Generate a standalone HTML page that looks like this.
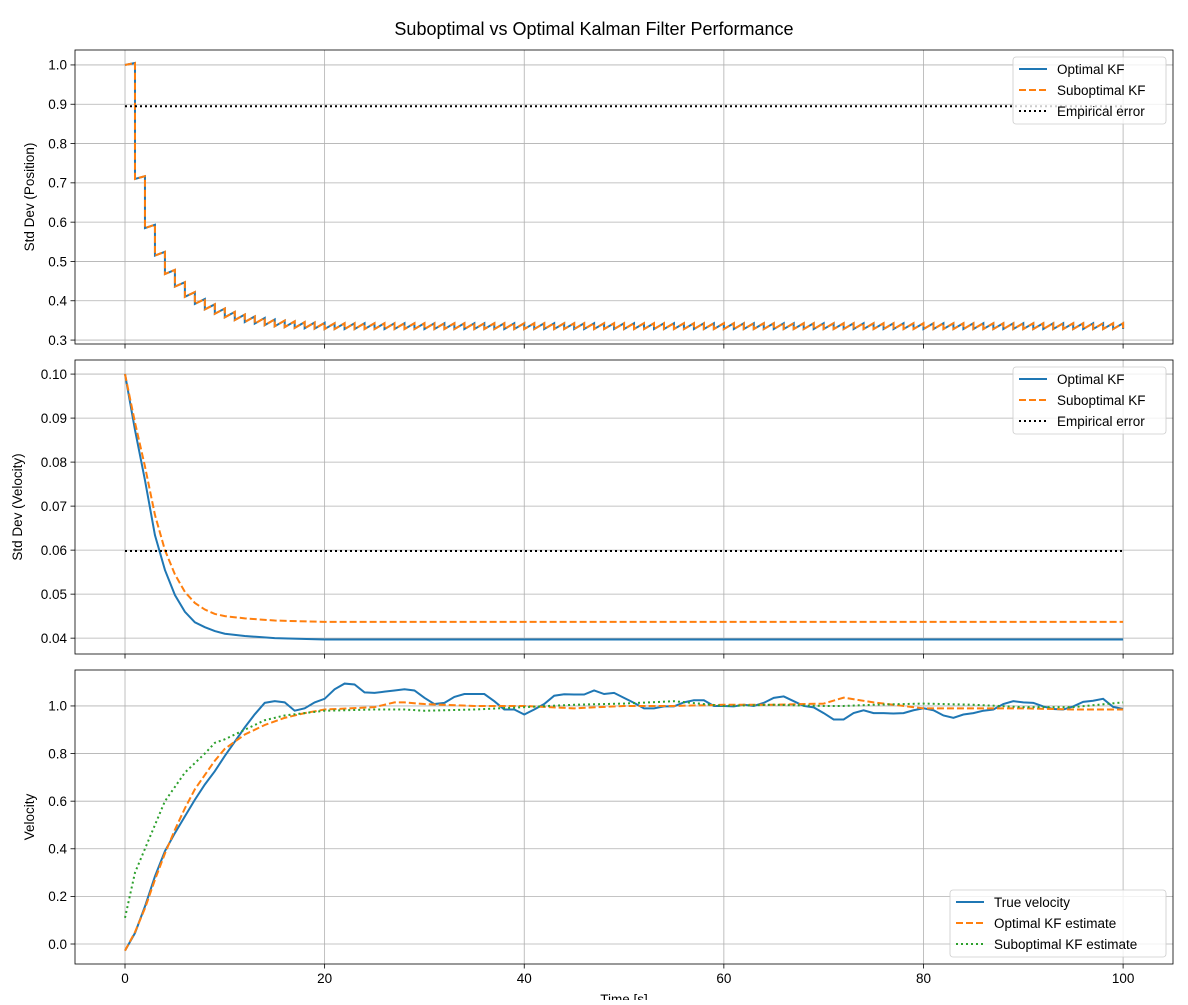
<!DOCTYPE html>
<html><head><meta charset="utf-8">
<style>
body{margin:0;background:#fff;}
svg{font-family:"Liberation Sans","DejaVu Sans",sans-serif;}
</style></head>
<body>
<svg id="chart" width="1188" height="1000" viewBox="0 0 1188 1000" xmlns="http://www.w3.org/2000/svg">
<rect width="1188" height="1000" fill="#fff"/>
<text x="594" y="35" font-size="18" text-anchor="middle">Suboptimal vs Optimal Kalman Filter Performance</text>
</svg>
<script>
// ---- data ----
const posPosterior = [1.0,0.71,0.585,0.515,0.468,0.436,0.41,0.392,0.378,0.367,0.358,0.351,0.346,0.342,0.338,0.335,0.333,0.331,0.330,0.329,0.328,0.328,0.328,0.328,0.328,0.328,0.328,0.328,0.328,0.328,0.328,0.328,0.328,0.328,0.328,0.328,0.328,0.328,0.328,0.328,0.328,0.328,0.328,0.328,0.328,0.328,0.328,0.328,0.328,0.328,0.328,0.328,0.328,0.328,0.328,0.328,0.328,0.328,0.328,0.328,0.328,0.328,0.328,0.328,0.328,0.328,0.328,0.328,0.328,0.328,0.328,0.328,0.328,0.328,0.328,0.328,0.328,0.328,0.328,0.328,0.328,0.328,0.328,0.328,0.328,0.328,0.328,0.328,0.328,0.328,0.328,0.328,0.328,0.328,0.328,0.328,0.328,0.328,0.328,0.328,0.328];
const posProcessNoise = 0.01;
const posEmpirical = 0.895;
const velTimes = [0,1,2,3,4,5,6,7,8,9,10,12,15,20,100];
const velStdOptimal = [0.1,0.0873,0.0759,0.0634,0.0555,0.0498,0.046,0.0436,0.0425,0.0416,0.041,0.0405,0.04,0.0397,0.0397];
const velStdSub = [0.1,0.089,0.079,0.068,0.060,0.0545,0.0505,0.048,0.0465,0.0455,0.045,0.0445,0.044,0.0437,0.0437];
const velEmpirical = 0.0598;
const trueVel = [-0.028,0.046,0.158,0.284,0.39,0.466,0.536,0.606,0.67,0.726,0.79,0.85,0.91,0.965,1.013,1.02,1.015,0.98,0.99,1.015,1.03,1.07,1.094,1.09,1.057,1.055,1.06,1.065,1.07,1.065,1.034,1.008,1.013,1.038,1.05,1.05,1.05,1.02,0.985,0.985,0.964,0.985,1.008,1.043,1.049,1.048,1.048,1.065,1.05,1.055,1.034,1.013,0.99,0.99,0.998,0.998,1.015,1.024,1.024,1.0,1.0,0.998,1.005,1.0,1.013,1.034,1.04,1.02,1.0,0.994,0.97,0.943,0.943,0.97,0.982,0.97,0.97,0.968,0.97,0.982,0.99,0.982,0.96,0.95,0.964,0.97,0.98,0.985,1.008,1.02,1.015,1.013,0.998,0.987,0.985,0.998,1.017,1.022,1.03,0.996,0.987];
const estTimes = [0,1,2,3,4,5,6,7,8,9,10,12,14,16,18,20,25,27,28,30,35,40,45,50,55,60,65,70,72,75,80,85,90,95,100];
const optEst = [-0.028,0.05,0.15,0.27,0.38,0.48,0.57,0.65,0.71,0.77,0.82,0.88,0.92,0.95,0.97,0.985,0.995,1.015,1.015,1.008,1.0,1.0,0.99,1.0,1.0,1.005,1.005,1.01,1.035,1.015,0.99,0.99,0.99,0.985,0.985];
const subEst = [0.11,0.3,0.4,0.5,0.6,0.66,0.72,0.76,0.8,0.845,0.86,0.9,0.94,0.96,0.97,0.98,0.985,0.985,0.985,0.98,0.985,0.995,1.005,1.01,1.02,1.0,1.005,1.0,1.0,1.005,1.01,1.005,0.995,0.995,1.015];
const xTicks = [0,20,40,60,80,100];
const yTicks1 = [0.3,0.4,0.5,0.6,0.7,0.8,0.9,1.0];
const yTicks2 = [0.04,0.05,0.06,0.07,0.08,0.09,0.10];
const yTicks3 = [0.0,0.2,0.4,0.6,0.8,1.0];

const NS="http://www.w3.org/2000/svg";
const svg=document.getElementById('chart');
function mk(tag,attrs,parent){const e=document.createElementNS(NS,tag);for(const k in attrs)e.setAttribute(k,attrs[k]);(parent||svg).appendChild(e);return e;}
const L=75,R=1173;
const xs=v=>L+(v+5.01)/(110.01)*(R-L);
function makeAxis(top,bot,ymin,ymax,ticks,dec,label,name,showXLabels){
  const ys=v=>bot-(v-ymin)/(ymax-ymin)*(bot-top);
  const g=mk('g',{});
  
  
  xTicks.forEach(t=>{
    const l=mk('line',{x1:xs(t),x2:xs(t),y1:top,y2:bot,stroke:'#b0b0b0','stroke-width':0.8},g);
    
    
    mk('line',{x1:xs(t),x2:xs(t),y1:bot,y2:bot+4.5,stroke:'#000','stroke-width':0.8},g);
    if(showXLabels){const tx=mk('text',{x:xs(t),y:bot+19,'font-size':13.5,'text-anchor':'middle'},g);tx.textContent=t;
      
      }
  });
  ticks.forEach(t=>{
    const l=mk('line',{x1:L,x2:R,y1:ys(t),y2:ys(t),stroke:'#b0b0b0','stroke-width':0.8},g);
    
    
    mk('line',{x1:L-4.5,x2:L,y1:ys(t),y2:ys(t),stroke:'#000','stroke-width':0.8},g);
    const tx=mk('text',{x:L-8,y:ys(t)+4.8,'font-size':13.5,'text-anchor':'end'},g);tx.textContent=t.toFixed(dec);
    
    
  });
  const yl=mk('text',{x:0,y:0,'font-size':13.5,'text-anchor':'middle',transform:`translate(${dec==2&&ticks[0]<0.1?(L-53):(L-41)},${(top+bot)/2}) rotate(-90)`},g);
  yl.textContent=label;
  
  
  return {g,ys,top,bot};
}
function line(ax,xsArr,ysArr,color,dash,name,w){
  const d=xsArr.map((x,i)=>(i?'L':'M')+xs(x).toFixed(2)+','+ax.ys(ysArr[i]).toFixed(2)).join(' ');
  const p=mk('path',{d,fill:'none',stroke:color,'stroke-width':w||2,'stroke-dasharray':dash||'none'},ax.g);
  
  
  return p;
}
function frame(ax){const r=mk('rect',{x:L,y:ax.top,width:R-L,height:ax.bot-ax.top,fill:'none',stroke:'#000','stroke-width':0.8},ax.g);
  
  }
function legend(ax,x,y,w,entries){
  const g=mk('g',{},ax.g);
  
  
  mk('rect',{x,y,width:w,height:67,rx:3,fill:'#fff','fill-opacity':0.8,stroke:'#ccc','stroke-width':0.8},g);
  entries.forEach((e,i)=>{
    const cy=y+12+i*21;
    const ln=mk('line',{x1:x+6,x2:x+34,y1:cy,y2:cy,stroke:e[1],'stroke-width':2,'stroke-dasharray':e[2]||'none'},g);
    
    
    const t=mk('text',{x:x+44,y:cy+5,'font-size':13.5},g);t.textContent=e[0];
    
    
  });
}
// Panel 1
const a1=makeAxis(50,344,0.290,1.038,yTicks1,1,'Std Dev (Position)','position-std-panel',false);
const px=[0],py=[posPosterior[0]];
for(let k=1;k<posPosterior.length;k++){px.push(k,k);py.push(Math.sqrt(posPosterior[k-1]**2+posProcessNoise),posPosterior[k]);}
line(a1,px,py,'#1f77b4',null,'position-std-optimal');
line(a1,px,py,'#ff7f0e','7,3','position-std-suboptimal');
line(a1,[0,100],[posEmpirical,posEmpirical],'#000','2,3','position-empirical-error');
frame(a1);
legend(a1,1013,57,153,[['Optimal KF','#1f77b4'],['Suboptimal KF','#ff7f0e','7,3'],['Empirical error','#000','2,3']]);
// Panel 2
const a2=makeAxis(360,654,0.0364,0.1032,yTicks2,2,'Std Dev (Velocity)','velocity-std-panel',false);
line(a2,velTimes,velStdOptimal,'#1f77b4',null,'velocity-std-optimal');
line(a2,velTimes,velStdSub,'#ff7f0e','7,3','velocity-std-suboptimal');
line(a2,[0,100],[velEmpirical,velEmpirical],'#000','2,3','velocity-empirical-error');
frame(a2);
legend(a2,1013,367,153,[['Optimal KF','#1f77b4'],['Suboptimal KF','#ff7f0e','7,3'],['Empirical error','#000','2,3']]);
// Panel 3
const a3=makeAxis(670,964,-0.084,1.151,yTicks3,1,'Velocity','velocity-panel',true);
line(a3,trueVel.map((v,i)=>i),trueVel,'#1f77b4',null,'true-velocity-line');
line(a3,estTimes,optEst,'#ff7f0e','7,3','optimal-estimate-line');
line(a3,estTimes,subEst,'#2ca02c','2,3','suboptimal-estimate-line');
frame(a3);
legend(a3,950,890,216,[['True velocity','#1f77b4'],['Optimal KF estimate','#ff7f0e','7,3'],['Suboptimal KF estimate','#2ca02c','2,3']]);
const xl=mk('text',{x:624,y:1004,'font-size':13.5,'text-anchor':'middle'});
xl.textContent='Time [s]';


</script>
</body></html>
